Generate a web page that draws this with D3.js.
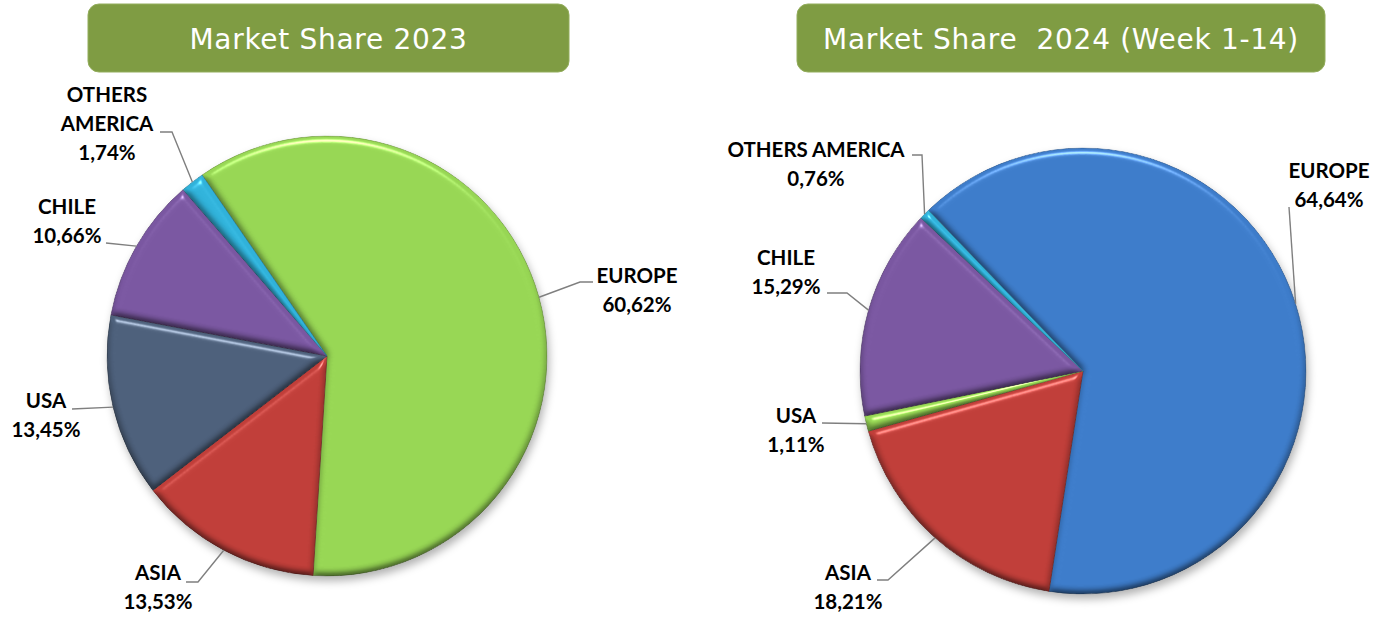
<!DOCTYPE html>
<html>
<head>
<meta charset="utf-8">
<script src="https://cdn.jsdelivr.net/npm/d3@7/dist/d3.min.js"></script>
<style>
  html, body { margin: 0; padding: 0; background: #ffffff; }
  svg { display: block; }
</style>
</head>
<body>
<svg id="chart" width="1380" height="620"></svg>
<script>
// ---- Data ----
const categories = ["EUROPE", "ASIA", "USA", "CHILE", "OTHERS AMERICA"];
const values2023 = [60.62, 13.53, 13.45, 10.66, 1.74];
const values2024 = [64.64, 18.21, 1.11, 15.29, 0.76];
const titles = ["Market Share 2023", "Market Share  2024 (Week 1-14)"];

const colors2023 = ["#97d654", "#c03e39", "#4d607b", "#7a57a1", "#30b2da"];
const colors2024 = ["#3d7cca", "#c03e39", "#97d654", "#7a57a1", "#30b2da"];

const svg = d3.select("#chart");
const defs = svg.append("defs");

// Soft rounded bevel used on every slice
const bevel = defs.append("filter").attr("id", "bevel")
  .attr("x", "-5%").attr("y", "-5%").attr("width", "110%").attr("height", "110%")
  .attr("color-interpolation-filters", "sRGB");
bevel.append("feGaussianBlur").attr("in", "SourceAlpha").attr("stdDeviation", 3.5).attr("result", "blur");
const diff = bevel.append("feDiffuseLighting").attr("in", "blur").attr("surfaceScale", 3)
  .attr("diffuseConstant", 1.155).attr("lighting-color", "#ffffff").attr("result", "diff");
diff.append("feDistantLight").attr("azimuth", 270).attr("elevation", 60);
bevel.append("feComposite").attr("in", "SourceGraphic").attr("in2", "diff")
  .attr("operator", "arithmetic").attr("k1", 1).attr("k2", 0).attr("k3", 0).attr("k4", 0).attr("result", "lit");
const spec = bevel.append("feSpecularLighting").attr("in", "blur").attr("surfaceScale", 4)
  .attr("specularConstant", 0.45).attr("specularExponent", 70).attr("lighting-color", "#ffffff").attr("result", "spec");
spec.append("feDistantLight").attr("azimuth", 270).attr("elevation", 50);
bevel.append("feComposite").attr("in", "spec").attr("in2", "SourceAlpha").attr("operator", "in").attr("result", "specIn");
bevel.append("feComposite").attr("in", "lit").attr("in2", "specIn")
  .attr("operator", "arithmetic").attr("k1", 0).attr("k2", 1).attr("k3", 1).attr("k4", 0).attr("result", "out");
bevel.append("feComposite").attr("in", "out").attr("in2", "SourceAlpha").attr("operator", "in");

// Soft shadow below each pie
const shadow = defs.append("filter").attr("id", "shadow")
  .attr("x", "-10%").attr("y", "-10%").attr("width", "120%").attr("height", "120%");
shadow.append("feGaussianBlur").attr("stdDeviation", 4);

const fmt = v => d3.format(".2f")(v).replace(".", ",") + "%";
const deg = a => a * Math.PI / 180;

// Layout of each pie: centre, radius, rotation of the first slice, title box
const pies = [
  {
    values: values2023, colors: colors2023, title: titles[0],
    cx: 327, cy: 356, r: 220, start: -34.6,
    box: { x: 88, y: 4, w: 481, h: 68 },
    labels: [
      { lines: ["EUROPE"], x: 637, y: 283, lead: [[593, 282], [580, 282]] },
      { lines: ["ASIA"], x: 158, y: 580, lead: [[186, 582], [198, 582]] },
      { lines: ["USA"], x: 46, y: 408, lead: [[72, 409]] },
      { lines: ["CHILE"], x: 67, y: 214, lead: [[106, 243]] },
      { lines: ["OTHERS", "AMERICA"], x: 107, y: 102, lead: [[160, 132], [172, 132]] }
    ]
  },
  {
    values: values2024, colors: colors2024, title: titles[1],
    cx: 1083, cy: 371, r: 223, start: -43.9,
    box: { x: 797, y: 4, w: 528, h: 68 },
    labels: [
      { lines: ["EUROPE"], x: 1329, y: 178, lead: [[1289, 207]] },
      { lines: ["ASIA"], x: 848, y: 580, lead: [[877, 580], [888, 580]] },
      { lines: ["USA"], x: 796, y: 423, lead: [[822, 423]] },
      { lines: ["CHILE"], x: 786, y: 265, lead: [[827, 293], [847, 293]] },
      { lines: ["OTHERS AMERICA"], x: 816, y: 157, lead: [[912, 155], [922, 155]] }
    ]
  }
];

const lineGap = 29;

pies.forEach(p => {
  // Title box
  const tb = svg.append("g");
  tb.append("rect")
    .attr("x", p.box.x).attr("y", p.box.y).attr("width", p.box.w).attr("height", p.box.h)
    .attr("rx", 11).attr("ry", 11)
    .attr("fill", "#7f9c43").attr("stroke", "#93ad5c").attr("stroke-width", 1);
  tb.append("text")
    .attr("x", p.box.x + p.box.w / 2).attr("y", p.box.y + 45)
    .attr("text-anchor", "middle")
    .attr("font-family", "'DejaVu Sans', Verdana, sans-serif")
    .attr("font-size", 28).attr("letter-spacing", 0.7)
    .attr("fill", "#ffffff")
    .style("white-space", "pre")
    .text(p.title);

  const pie = d3.pie().sort(null).value(d => d)
    .startAngle(deg(p.start)).endAngle(deg(p.start) + 2 * Math.PI);
  const arcs = pie(p.values);
  const arc = d3.arc().innerRadius(0).outerRadius(p.r);

  const g = svg.append("g").attr("transform", `translate(${p.cx},${p.cy})`);

  g.append("circle").attr("cx", 2).attr("cy", 5).attr("r", p.r)
    .attr("fill", "rgba(0,0,0,0.3)").attr("filter", "url(#shadow)");

  g.selectAll("path.slice").data(arcs).join("path")
    .attr("class", "slice")
    .attr("d", arc)
    .attr("fill", (d, i) => p.colors[i])
    .attr("stroke", (d, i) => d3.color(p.colors[i]).darker(0.9))
    .attr("stroke-width", 0.8)
    .attr("filter", "url(#bevel)");

  // Labels with leader lines ending at the middle of each slice's rim
  arcs.forEach((a, i) => {
    const L = p.labels[i];
    const mid = (a.startAngle + a.endAngle) / 2;
    const ex = p.cx + p.r * Math.sin(mid);
    const ey = p.cy - p.r * Math.cos(mid);
    const pts = L.lead.concat([[ex, ey]]);
    svg.append("path")
      .attr("d", d3.line()(pts))
      .attr("fill", "none").attr("stroke", "#7f7f7f").attr("stroke-width", 1.4);

    const t = svg.append("text")
      .attr("text-anchor", "middle")
      .attr("font-family", "Lato, 'Open Sans', sans-serif")
      .attr("font-weight", "bold").attr("font-size", 20.5).attr("fill", "#000000");
    L.lines.concat([fmt(p.values[i])]).forEach((s, k) => {
      t.append("tspan").attr("x", L.x).attr("y", L.y + k * lineGap).text(s);
    });
  });
});
</script>
</body>
</html>
